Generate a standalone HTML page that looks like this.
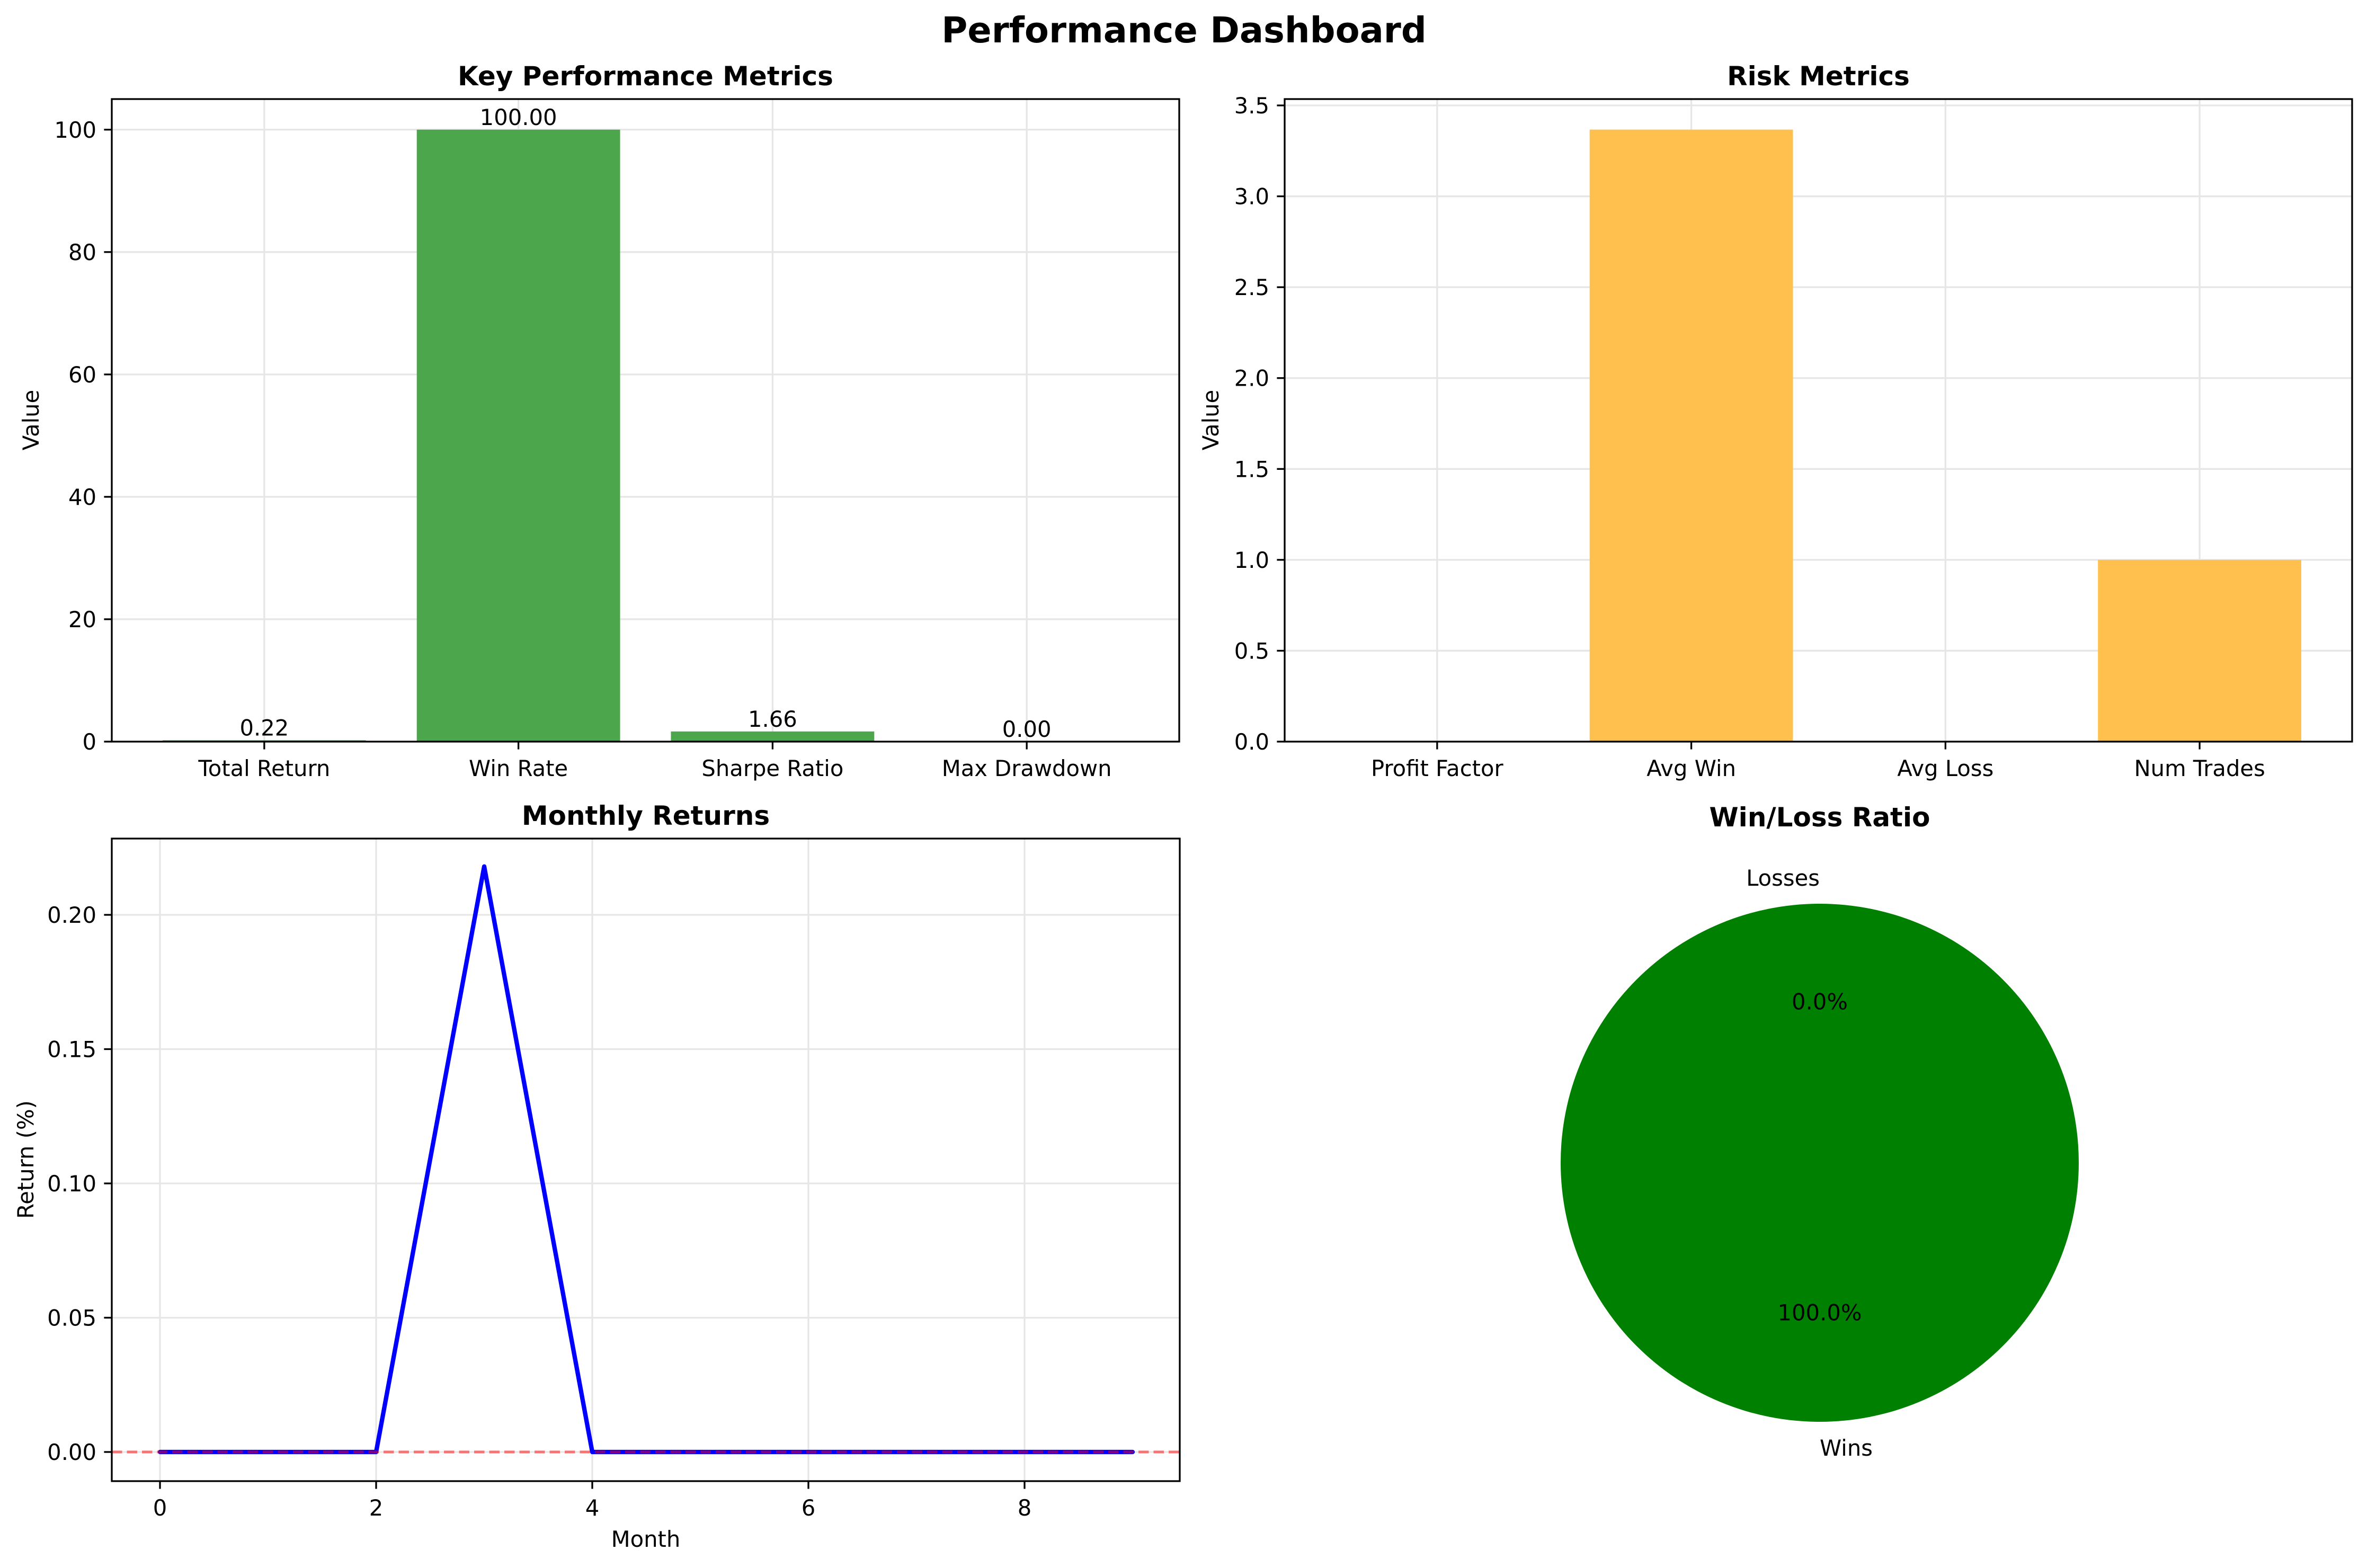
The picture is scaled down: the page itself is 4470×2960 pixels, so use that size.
<!DOCTYPE html>
<html><head><meta charset="utf-8"><style>
html,body{margin:0;padding:0;background:#fff;}
svg text{font-family:"DejaVu Sans","Liberation Sans",sans-serif;fill:#000;}
</style></head><body>
<svg id="s" xmlns="http://www.w3.org/2000/svg" width="4470" height="2955" viewBox="0 0 4470 2955">
<rect width="4470" height="2955" fill="#fff"/>
<text x="2235" y="80" font-size="67" font-weight="bold" text-anchor="middle">Performance Dashboard</text>
</svg>
<script>
// ---- data ----
const kpiCategories = ["Total Return","Win Rate","Sharpe Ratio","Max Drawdown"];
const kpiValues = [0.22, 100.0, 1.66, 0.0];
const kpiTicks = [0,20,40,60,80,100];
const riskCategories = ["Profit Factor","Avg Win","Avg Loss","Num Trades"];
const riskValues = [0, 3.367, 0, 1.0];
const riskTicks = [0,0.5,1.0,1.5,2.0,2.5,3.0,3.5];
const months = [0,1,2,3,4,5,6,7,8,9];
const monthlyReturns = [0,0,0,0.218,0,0,0,0,0,0];
const monthXTicks = [0,2,4,6,8];
const monthYTicks = [0,0.05,0.10,0.15,0.20];
const pieLabels = ["Wins","Losses"];
const pieValues = [1, 0];

const NS="http://www.w3.org/2000/svg";
const svg=document.getElementById('s');
function mk(tag,attrs,parent){const e=document.createElementNS(NS,tag);for(const k in attrs)e.setAttribute(k,attrs[k]);(parent||svg).appendChild(e);return e;}
function txt(x,y,s,size,anchor,parent,extra){const e=mk('text',Object.assign({x:x,y:y,'font-size':size,'text-anchor':anchor||'middle'},extra||{}),parent);e.textContent=s;return e;}

function barPanel(L,T,R,B,cats,vals,ticks,ymax,color,title,fmtTicks,showLabels,name){
  const g=mk('g',{});
  
  
  const n=cats.length, xmin=-0.6, xmax=n-1+0.6;
  const xs=v=>L+(v-xmin)/(xmax-xmin)*(R-L);
  const ys=v=>B-v/ymax*(B-T);
  ticks.forEach(t=>{
    const l=mk('line',{x1:L,x2:R,y1:ys(t),y2:ys(t),stroke:'#e6e6e6','stroke-width':3.3},g);
    
    
  });
  cats.forEach((c,i)=>{
    const l=mk('line',{x1:xs(i),x2:xs(i),y1:T,y2:B,stroke:'#e6e6e6','stroke-width':3.3},g);
    
    
  });
  vals.forEach((v,i)=>{
    const bw=0.8/(xmax-xmin)*(R-L);
    const r=mk('rect',{x:xs(i)-bw/2,y:ys(v),width:bw,height:B-ys(v),fill:color},g);
    
    
    if(showLabels){
      const t=txt(xs(i),ys(v)-9,v.toFixed(2),41.7,'middle',g);
      
      
    }
    mk('line',{x1:xs(i),x2:xs(i),y1:B,y2:B+14.6,stroke:'#000','stroke-width':3.3},g);
    const tl=txt(xs(i),B+65,cats[i],41.7,'middle',g);
    
    
  });
  ticks.forEach(t=>{
    mk('line',{x1:L-14.6,x2:L,y1:ys(t),y2:ys(t),stroke:'#000','stroke-width':3.3},g);
    const tl=txt(L-29,ys(t)+15,fmtTicks(t),41.7,'end',g);
    
    
  });
  const fr=mk('rect',{x:L,y:T,width:R-L,height:B-T,fill:'none',stroke:'#000','stroke-width':3.3},g);
  
  
  const tt=txt((L+R)/2,T-26,title,50,'middle',g,{'font-weight':'bold'});
  
  
  return g;
}
barPanel(211,187,2226,1400,kpiCategories,kpiValues,kpiTicks,105,'#4ca64c','Key Performance Metrics',t=>String(t),true,'key-performance-chart');
const yl1=txt(0,0,'Value',41.7,'middle');
yl1.setAttribute('transform','translate(73,793) rotate(-90)');


barPanel(2425,187,4440,1400,riskCategories,riskValues,riskTicks,3.535,'#ffc04d','Risk Metrics',t=>t.toFixed(1),false,'risk-metrics-chart');
const yl2=txt(0,0,'Value',41.7,'middle');
yl2.setAttribute('transform','translate(2300,793) rotate(-90)');



// ---- line chart ----
(function(){
  const L=211,T=1583,R=2227,B=2796;
  const g=mk('g',{});
  
  
  const xs=v=>302+v*204;
  const ys=v=>2741-v/0.05*253.5;
  monthYTicks.forEach(t=>{
    mk('line',{x1:L,x2:R,y1:ys(t),y2:ys(t),stroke:'#e6e6e6','stroke-width':3.3},g);
    mk('line',{x1:L-14.6,x2:L,y1:ys(t),y2:ys(t),stroke:'#000','stroke-width':3.3},g);
    const tl=txt(L-29,ys(t)+15,t.toFixed(2),41.7,'end',g);
    
    
  });
  monthXTicks.forEach(t=>{
    mk('line',{x1:xs(t),x2:xs(t),y1:T,y2:B,stroke:'#e6e6e6','stroke-width':3.3},g);
    mk('line',{x1:xs(t),x2:xs(t),y1:B,y2:B+14.6,stroke:'#000','stroke-width':3.3},g);
    const tl=txt(xs(t),B+65,String(t),41.7,'middle',g);
    
    
  });
  const pts=months.map((m,i)=>xs(m)+','+ys(monthlyReturns[i])).join(' ');
  const pl=mk('polyline',{points:pts,fill:'none',stroke:'#0000ff','stroke-width':8.3,'stroke-linejoin':'round','stroke-linecap':'round'},g);
  
  
  const zl=mk('line',{x1:L,x2:R,y1:ys(0),y2:ys(0),stroke:'#ff0000','stroke-opacity':0.5,'stroke-width':5.2,'stroke-dasharray':'19.5 9'},g);
  
  
  const fr=mk('rect',{x:L,y:T,width:R-L,height:B-T,fill:'none',stroke:'#000','stroke-width':3.3},g);
  
  
  const tt=txt((L+R)/2,T-26,'Monthly Returns',50,'middle',g,{'font-weight':'bold'});
  
  
  const xl=txt((L+R)/2,2920,'Month',41.7,'middle',g);
  
  
  const yl=txt(0,0,'Return (%)',41.7,'middle',g);
  yl.setAttribute('transform','translate(63,2189) rotate(-90)');
  
  
})();

// ---- pie ----
(function(){
  const cx=3435,cy=2195,r=489;
  const g=mk('g',{});
  
  
  const colors=['#008000','#ff0000'];
  const total=pieValues.reduce((a,b)=>a+b,0);
  let ang=90;
  pieValues.forEach((v,i)=>{
    const frac=v/total, sweep=frac*360;
    const a0=ang*Math.PI/180, a1=(ang+sweep)*Math.PI/180;
    let el;
    if(frac>=0.9999){
      el=mk('circle',{cx:cx,cy:cy,r:r,fill:colors[i]},g);
    }else if(frac>0){
      const large=sweep>180?1:0;
      const d='M'+cx+','+cy+' L'+(cx+r*Math.cos(a0))+','+(cy-r*Math.sin(a0))+' A'+r+','+r+' 0 '+large+' 0 '+(cx+r*Math.cos(a1))+','+(cy-r*Math.sin(a1))+' Z';
      el=mk('path',{d:d,fill:colors[i]},g);
    }
    if(el){
      
      
    }
    const mid=(ang+sweep/2)*Math.PI/180;
    const lx=cx+1.1*r*Math.cos(mid), ly=cy-1.1*r*Math.sin(mid);
    let anchor;
    if(Math.abs(Math.cos(mid))<1e-6) anchor=Math.sin(mid)>0?'end':'start';
    else anchor=Math.cos(mid)>0?'start':'end';
    const lab=txt(lx,ly+15,pieLabels[i],41.7,anchor,g);
    
    
    const px=cx+0.6*r*Math.cos(mid), py=cy-0.6*r*Math.sin(mid);
    const pc=txt(px,py+4,(frac*100).toFixed(1)+'%',41.7,'middle',g);
    
    
    ang+=sweep;
  });
  const tt=txt(cx,1560,'Win/Loss Ratio',50,'middle',g,{'font-weight':'bold'});
  
  
})();
</script>
</body></html>
